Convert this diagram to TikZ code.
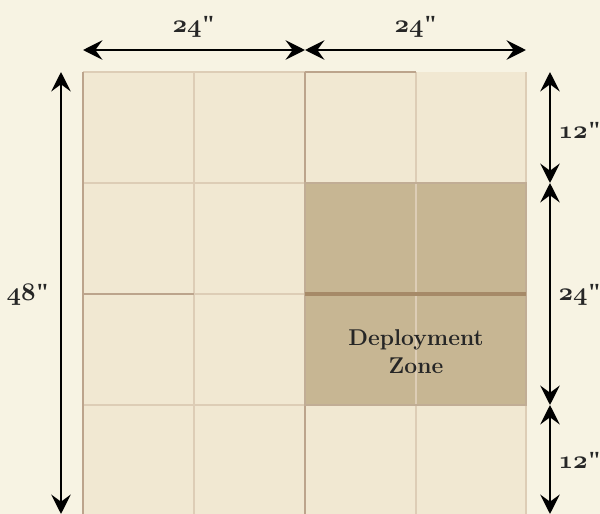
\documentclass[tikz,border=0pt]{standalone}
\usepackage{fontspec}
\usetikzlibrary{arrows.meta}
\newfontfamily\quotefont{Liberation Serif}
\newcommand{\osnum}[1]{{\usefont{OML}{cmm}{b}{it}#1}}
\newcommand{\inch}{{\quotefont\bfseries"}}
\definecolor{parch}{HTML}{F7F3E3}
\definecolor{cell}{HTML}{F1E8D2}
\definecolor{zone}{HTML}{C7B693}
\definecolor{gline}{HTML}{DDCDB6}
\definecolor{dline}{HTML}{BCA48C}
\definecolor{zline}{HTML}{A68A68}
\tikzset{
  dim/.style={line width=1.7pt,{Stealth[length=11pt,width=11pt,inset=4pt]}-{Stealth[length=11pt,width=11pt,inset=4pt]}},
  lbl/.style={font=\fontsize{14}{17}\selectfont\bfseries,text=black!85},
}
\begin{document}
\begin{tikzpicture}[x=0.02cm,y=-0.02cm]
\useasboundingbox (0,0) rectangle (600,514);
\fill[parch] (0,0) rectangle (600,514);
% board
\fill[cell] (83,72) rectangle (526,514);
\fill[zone] (305,183) rectangle (526,405);
\foreach \x in {194,416}{\draw[gline,line width=1.3pt] (\x,72) -- (\x,514);}
\foreach \y in {183,405}{\draw[gline,line width=1.3pt] (83,\y) -- (526,\y);}
\draw[gline,line width=1.3pt] (194,294) -- (305,294) (526,72) -- (526,514) (83,72) -- (305,72);
\draw[dline,line width=1.3pt] (83,72) -- (83,514) (305,72) -- (305,514) (83,294) -- (194,294) (305,72) -- (416,72);
\draw[zline!70,line width=1pt] (305,183) rectangle (526,405);
\draw[zline,line width=2pt] (305,294) -- (526,294);
% corners for the measures
\coordinate (tl) at (83,50);
\coordinate (tm) at (305,50);
\coordinate (tr) at (526,50);
\coordinate (lt) at (61,72);
\coordinate (lb) at (61,514);
\coordinate (r1) at (550,72);
\coordinate (r2) at (550,183);
\coordinate (r3) at (550,405);
\coordinate (r4) at (550,514);
\draw[dim] (tl) -- (tm);
\draw[dim] (tm) -- (tr);
\draw[dim] (lt) -- (lb);
\draw[dim] (r1) -- (r2);
\draw[dim] (r2) -- (r3);
\draw[dim] (r3) -- (r4);
\node[lbl] (wa) at (194,27) {\osnum{24}\inch};
\node[lbl] (wb) at (416,27) {\osnum{24}\inch};
\node[lbl] (ht) at (28,295) {\osnum{48}\inch};
\node[lbl,inner sep=1pt] (ha) at (580,130) {\osnum{12}\inch};
\node[lbl,inner sep=1pt] (hb) at (580,295) {\osnum{24}\inch};
\node[lbl,inner sep=1pt] (hc) at (580,460) {\osnum{12}\inch};
\node[lbl,font=\fontsize{13}{16}\selectfont\bfseries,align=center] (dz) at (416,352) {Deployment\\Zone};
\end{tikzpicture}
\end{document}
